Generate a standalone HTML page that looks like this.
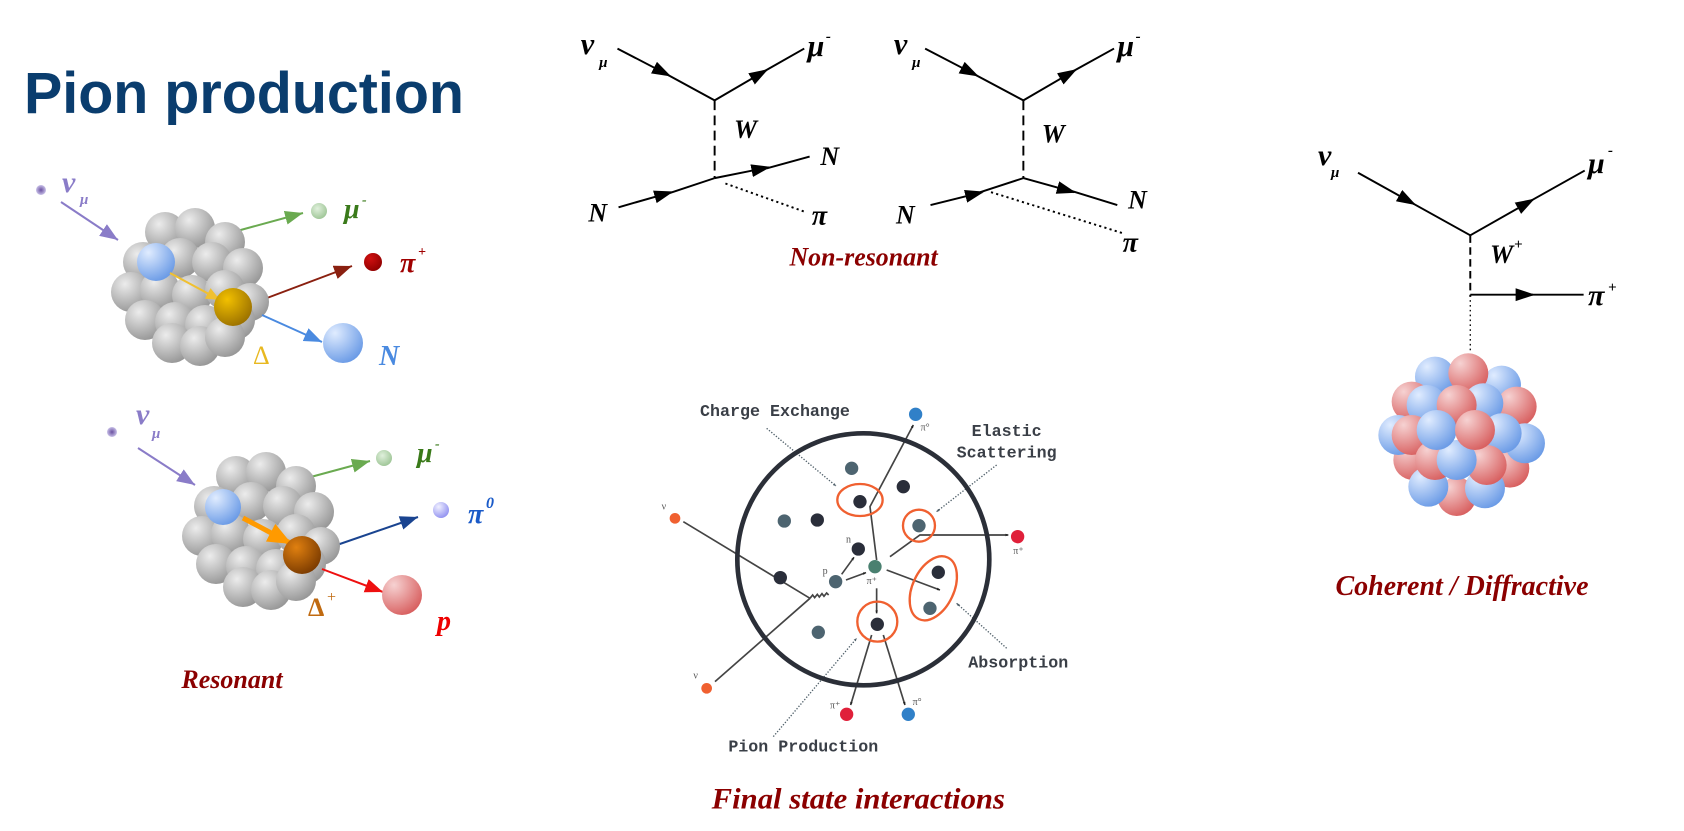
<!DOCTYPE html>
<html><head><meta charset="utf-8"><style>
html,body{margin:0;padding:0;background:#fff;}
svg{display:block;}
.ph{font-family:"Liberation Serif",serif;font-style:italic;font-weight:bold;}
.mono{font-family:"Liberation Mono",monospace;font-weight:bold;fill:#3a3f47;}
</style></head><body>
<svg width="1684" height="831" viewBox="0 0 1684 831" xmlns="http://www.w3.org/2000/svg">
<defs>
<radialGradient id="gray" cx="35%" cy="30%" r="75%"><stop offset="0" stop-color="#ececec"/><stop offset="1" stop-color="#959595"/></radialGradient>
<radialGradient id="blue" cx="30%" cy="25%" r="80%"><stop offset="0" stop-color="#e0ecff"/><stop offset="1" stop-color="#6b9be6"/></radialGradient>
<radialGradient id="red" cx="30%" cy="25%" r="80%"><stop offset="0" stop-color="#f6d2d2"/><stop offset="1" stop-color="#d86060"/></radialGradient>
<radialGradient id="gold" cx="35%" cy="30%" r="75%"><stop offset="0" stop-color="#f2c000"/><stop offset="1" stop-color="#9a7000"/></radialGradient>
<radialGradient id="orng" cx="35%" cy="30%" r="75%"><stop offset="0" stop-color="#e08010"/><stop offset="1" stop-color="#7a3a00"/></radialGradient>
<radialGradient id="grn" cx="40%" cy="35%" r="70%"><stop offset="0" stop-color="#e0f0dc"/><stop offset="1" stop-color="#9cc494"/></radialGradient>
<radialGradient id="pur" cx="50%" cy="50%" r="50%"><stop offset="0" stop-color="#6a50a0"/><stop offset="1" stop-color="#c8c0e8"/></radialGradient>
<radialGradient id="lav" cx="35%" cy="30%" r="75%"><stop offset="0" stop-color="#f0f0ff"/><stop offset="1" stop-color="#9090f0"/></radialGradient>
<radialGradient id="dred" cx="35%" cy="30%" r="75%"><stop offset="0" stop-color="#d01010"/><stop offset="1" stop-color="#900000"/></radialGradient>
<marker id="ak" markerUnits="userSpaceOnUse" markerWidth="20" markerHeight="14" refX="16" refY="6" orient="auto"><path d="M0,0 L18,6 L0,12 Z" fill="#000"/></marker>
<marker id="ak2" markerUnits="userSpaceOnUse" markerWidth="10" markerHeight="8" refX="9" refY="4" orient="auto"><path d="M0,0 L10,4 L0,8 Z" fill="#222"/></marker>
<marker id="as" markerUnits="userSpaceOnUse" markerWidth="10" markerHeight="8" refX="9" refY="4" orient="auto"><path d="M0,0 L10,4 L0,8 Z" fill="#50606a"/></marker>
<marker id="apur" markerUnits="userSpaceOnUse" markerWidth="20" markerHeight="16" refX="18" refY="7" orient="auto"><path d="M0,0 L18,7 L0,14 Z" fill="#8a7cc8"/></marker>
<marker id="agrn" markerUnits="userSpaceOnUse" markerWidth="20" markerHeight="16" refX="18" refY="7" orient="auto"><path d="M0,0 L18,7 L0,14 Z" fill="#6aaa50"/></marker>
<marker id="adr" markerUnits="userSpaceOnUse" markerWidth="20" markerHeight="16" refX="18" refY="7" orient="auto"><path d="M0,0 L18,7 L0,14 Z" fill="#8a2010"/></marker>
<marker id="abl" markerUnits="userSpaceOnUse" markerWidth="20" markerHeight="16" refX="18" refY="7" orient="auto"><path d="M0,0 L18,7 L0,14 Z" fill="#4a8ae0"/></marker>
<marker id="anv" markerUnits="userSpaceOnUse" markerWidth="20" markerHeight="16" refX="18" refY="7" orient="auto"><path d="M0,0 L18,7 L0,14 Z" fill="#1a4490"/></marker>
<marker id="ard" markerUnits="userSpaceOnUse" markerWidth="20" markerHeight="16" refX="18" refY="7" orient="auto"><path d="M0,0 L18,7 L0,14 Z" fill="#ee1010"/></marker>
<marker id="ayl" markerUnits="userSpaceOnUse" markerWidth="16" markerHeight="14" refX="14" refY="6" orient="auto"><path d="M0,0 L14,6 L0,12 Z" fill="#f0c030"/></marker>
<marker id="aor" markerUnits="userSpaceOnUse" markerWidth="26" markerHeight="22" refX="22" refY="10" orient="auto"><path d="M0,0 L24,10 L0,20 Z" fill="#ff9a00"/></marker>
<g id="nuc">
<circle cx="165" cy="232" r="20" fill="url(#gray)"/><circle cx="195" cy="228" r="20" fill="url(#gray)"/><circle cx="225" cy="242" r="20" fill="url(#gray)"/>
<circle cx="143" cy="262" r="20" fill="url(#gray)"/><circle cx="180" cy="258" r="20" fill="url(#gray)"/><circle cx="212" cy="262" r="20" fill="url(#gray)"/><circle cx="243" cy="268" r="20" fill="url(#gray)"/>
<circle cx="131" cy="292" r="20" fill="url(#gray)"/><circle cx="160" cy="290" r="20" fill="url(#gray)"/><circle cx="192" cy="295" r="20" fill="url(#gray)"/><circle cx="225" cy="290" r="20" fill="url(#gray)"/><circle cx="250" cy="302" r="19" fill="url(#gray)"/>
<circle cx="145" cy="320" r="20" fill="url(#gray)"/><circle cx="175" cy="322" r="20" fill="url(#gray)"/><circle cx="205" cy="325" r="20" fill="url(#gray)"/><circle cx="235" cy="320" r="20" fill="url(#gray)"/>
<circle cx="172" cy="343" r="20" fill="url(#gray)"/><circle cx="200" cy="346" r="20" fill="url(#gray)"/><circle cx="225" cy="337" r="20" fill="url(#gray)"/>
</g>
</defs>

<!-- Title -->
<text x="24" y="113" font-family="Liberation Sans,sans-serif" font-weight="bold" font-size="58" fill="#0a3d6e" textLength="440" lengthAdjust="spacingAndGlyphs">Pion production</text>

<!-- Resonant 1 -->
<circle cx="41" cy="190" r="5" fill="url(#pur)"/>
<text class="ph" x="62" y="192" font-size="30" fill="#8a7cc8">ν</text><text class="ph" x="80" y="204" font-size="15" fill="#8a7cc8">μ</text>
<line x1="61" y1="202" x2="118" y2="240" stroke="#8a7cc8" stroke-width="2" marker-end="url(#apur)"/>
<line x1="237" y1="231" x2="303" y2="213" stroke="#6aaa50" stroke-width="2" marker-end="url(#agrn)"/>
<circle cx="319" cy="211" r="8" fill="url(#grn)"/>
<text class="ph" x="344" y="218" font-size="28" fill="#3a7a1a">μ</text><text class="ph" x="362" y="204" font-size="14" fill="#3a7a1a">-</text>
<line x1="267" y1="298" x2="352" y2="266" stroke="#8a2010" stroke-width="2" marker-end="url(#adr)"/>
<circle cx="373" cy="262" r="9" fill="url(#dred)"/>
<text class="ph" x="400" y="272" font-size="28" fill="#a00000">π</text><text class="ph" x="418" y="256" font-size="14" fill="#a00000">+</text>
<use href="#nuc"/>
<circle cx="156" cy="262" r="19" fill="url(#blue)"/>
<line x1="170" y1="273" x2="220" y2="300" stroke="#f0c030" stroke-width="2" marker-end="url(#ayl)"/>
<circle cx="233" cy="307" r="19" fill="url(#gold)"/>
<line x1="262" y1="315" x2="322" y2="342" stroke="#4a8ae0" stroke-width="2" marker-end="url(#abl)"/>
<circle cx="343" cy="343" r="20" fill="url(#blue)"/>
<text class="ph" x="379" y="365" font-size="28" fill="#4a8ae0">N</text>
<text x="253" y="364" font-family="Liberation Serif,serif" font-size="26" fill="#e8b820">Δ</text>

<!-- Resonant 2 -->
<circle cx="112" cy="432" r="5" fill="url(#pur)"/>
<text class="ph" x="136" y="424" font-size="30" fill="#8a7cc8">ν</text><text class="ph" x="152" y="438" font-size="15" fill="#8a7cc8">μ</text>
<line x1="138" y1="448" x2="195" y2="485" stroke="#8a7cc8" stroke-width="2" marker-end="url(#apur)"/>
<line x1="307" y1="478" x2="370" y2="461" stroke="#6aaa50" stroke-width="2" marker-end="url(#agrn)"/>
<circle cx="384" cy="458" r="8" fill="url(#grn)"/>
<text class="ph" x="417" y="462" font-size="28" fill="#3a7a1a">μ</text><text class="ph" x="435" y="448" font-size="14" fill="#3a7a1a">-</text>
<line x1="334" y1="546" x2="418" y2="517" stroke="#1a4490" stroke-width="2" marker-end="url(#anv)"/>
<circle cx="441" cy="510" r="8" fill="url(#lav)"/>
<text class="ph" x="468" y="523" font-size="28" fill="#1a5ac8">π</text><text class="ph" x="486" y="508" font-size="16" fill="#1a5ac8">0</text>
<use href="#nuc" transform="translate(71,244)"/>
<circle cx="223" cy="507" r="18" fill="url(#blue)"/>
<line x1="243" y1="518" x2="290" y2="543" stroke="#ff9a00" stroke-width="5" marker-end="url(#aor)"/>
<circle cx="302" cy="555" r="19" fill="url(#orng)"/>
<line x1="322" y1="569" x2="383" y2="592" stroke="#ee1010" stroke-width="2" marker-end="url(#ard)"/>
<circle cx="402" cy="595" r="20" fill="url(#red)"/>
<text class="ph" x="437" y="630" font-size="28" fill="#ee0000">p</text>
<text x="308" y="616" font-family="Liberation Serif,serif" font-weight="bold" font-size="26" fill="#c06a10">Δ</text><text x="327" y="602" font-family="Liberation Serif,serif" font-size="16" fill="#c06a10">+</text>
<text class="ph" x="232" y="688" font-size="26" fill="#8b0000" text-anchor="middle">Resonant</text>

<!-- Feynman diagrams (displayed coords) -->
<g transform="scale(1.0795)" stroke="#000" stroke-width="1.8" fill="none">
<line x1="572" y1="45" x2="620" y2="70" marker-end="url(#ak)"/><line x1="618" y1="69" x2="662" y2="93"/>
<line x1="662" y1="93" x2="710" y2="65" marker-end="url(#ak)"/><line x1="708" y1="66" x2="745" y2="45"/>
<line x1="662" y1="93" x2="662" y2="165" stroke-dasharray="9,5"/>
<line x1="573" y1="192" x2="622" y2="178" marker-end="url(#ak)"/><line x1="620" y1="179" x2="662" y2="165"/>
<line x1="662" y1="165" x2="712" y2="155" marker-end="url(#ak)"/><line x1="710" y1="156" x2="750" y2="145"/>
<line x1="672" y1="170" x2="745" y2="196" stroke-dasharray="2,3"/>

<line x1="857" y1="45" x2="905" y2="70" marker-end="url(#ak)"/><line x1="903" y1="69" x2="948" y2="93"/>
<line x1="948" y1="93" x2="996" y2="65" marker-end="url(#ak)"/><line x1="994" y1="66" x2="1032" y2="45"/>
<line x1="948" y1="93" x2="948" y2="165" stroke-dasharray="9,5"/>
<line x1="862" y1="190" x2="910" y2="178" marker-end="url(#ak)"/><line x1="908" y1="178" x2="948" y2="165"/>
<line x1="948" y1="165" x2="995" y2="178" marker-end="url(#ak)"/><line x1="993" y1="177" x2="1035" y2="190"/>
<line x1="918" y1="178" x2="1040" y2="216" stroke-dasharray="2,3"/>

<line x1="1258" y1="160" x2="1310" y2="189" marker-end="url(#ak)"/><line x1="1308" y1="188" x2="1362" y2="218"/>
<line x1="1362" y1="218" x2="1420" y2="185" marker-end="url(#ak)"/><line x1="1418" y1="186" x2="1468" y2="158"/>
<line x1="1362" y1="218" x2="1362" y2="275" stroke-dasharray="7,4"/>
<line x1="1362" y1="273" x2="1420" y2="273" marker-end="url(#ak)"/><line x1="1418" y1="273" x2="1467" y2="273"/>
<line x1="1362" y1="278" x2="1362" y2="327" stroke-dasharray="1.5,3" stroke-width="1.2"/>
</g>
<g transform="scale(1.0795)" fill="#000">
<text class="ph" x="538" y="50" font-size="28">ν</text><text class="ph" x="555" y="62" font-size="14">μ</text>
<text class="ph" x="748" y="52" font-size="28">μ</text><text class="ph" x="765" y="38" font-size="14">-</text>
<text class="ph" x="680" y="128" font-size="24" font-weight="normal">W</text>
<text class="ph" x="760" y="153" font-size="24" font-weight="normal">N</text>
<text class="ph" x="545" y="205" font-size="24" font-weight="normal">N</text>
<text class="ph" x="752" y="208" font-size="26">π</text>
<text class="ph" x="828" y="50" font-size="28">ν</text><text class="ph" x="845" y="62" font-size="14">μ</text>
<text class="ph" x="1035" y="52" font-size="28">μ</text><text class="ph" x="1052" y="38" font-size="14">-</text>
<text class="ph" x="965" y="132" font-size="24" font-weight="normal">W</text>
<text class="ph" x="1045" y="193" font-size="24" font-weight="normal">N</text>
<text class="ph" x="830" y="207" font-size="24" font-weight="normal">N</text>
<text class="ph" x="1040" y="233" font-size="26">π</text>
<text class="ph" x="800" y="246" font-size="24" fill="#8b0000" text-anchor="middle">Non-resonant</text>
</g>

<!-- Coherent -->
<g fill="#000">
<text class="ph" x="1318" y="165" font-size="30">ν</text><text class="ph" x="1331" y="177" font-size="15">μ</text>
<text class="ph" x="1588" y="173" font-size="30">μ</text><text class="ph" x="1608" y="155" font-size="15">-</text>
<text class="ph" x="1490" y="263" font-size="26">W</text><text class="ph" x="1514" y="249" font-size="15" font-weight="normal">+</text>
<text class="ph" x="1588" y="305" font-size="30">π</text><text class="ph" x="1608" y="292" font-size="15" font-weight="normal">+</text>
</g>
<g transform="translate(1280,130) scale(0.3333)">
<circle cx="465" cy="740" r="60" fill="url(#blue)"/><circle cx="665" cy="765" r="58" fill="url(#blue)"/><circle cx="565" cy="730" r="60" fill="url(#red)"/>
<circle cx="395" cy="815" r="60" fill="url(#red)"/><circle cx="710" cy="830" r="60" fill="url(#red)"/>
<circle cx="440" cy="825" r="60" fill="url(#blue)"/><circle cx="610" cy="820" r="60" fill="url(#blue)"/><circle cx="530" cy="825" r="60" fill="url(#red)"/>
<circle cx="400" cy="990" r="60" fill="url(#red)"/><circle cx="690" cy="1015" r="58" fill="url(#red)"/>
<circle cx="355" cy="915" r="60" fill="url(#blue)"/><circle cx="735" cy="940" r="60" fill="url(#blue)"/>
<circle cx="395" cy="915" r="60" fill="url(#red)"/><circle cx="665" cy="910" r="60" fill="url(#blue)"/>
<circle cx="530" cy="1100" r="58" fill="url(#red)"/><circle cx="445" cy="1070" r="60" fill="url(#blue)"/><circle cx="615" cy="1075" r="60" fill="url(#blue)"/>
<circle cx="465" cy="990" r="60" fill="url(#red)"/><circle cx="620" cy="1005" r="60" fill="url(#red)"/>
<circle cx="530" cy="990" r="60" fill="url(#blue)"/>
<circle cx="470" cy="900" r="60" fill="url(#blue)"/><circle cx="585" cy="900" r="60" fill="url(#red)"/>
</g>
<text class="ph" x="1462" y="595" font-size="28" fill="#8b0000" text-anchor="middle">Coherent / Diffractive</text>

<!-- FSI -->
<g transform="translate(600,380) scale(0.3333)">
<g stroke="#50606a" stroke-width="4" stroke-dasharray="4,5" fill="none">
<line x1="500" y1="145" x2="708" y2="318" marker-end="url(#as)"/>
<line x1="1190" y1="255" x2="1010" y2="395" marker-end="url(#as)"/>
<line x1="1220" y1="805" x2="1070" y2="670" marker-end="url(#as)"/>
<line x1="520" y1="1070" x2="770" y2="775" marker-end="url(#as)"/>
</g>
<g stroke="#444" stroke-width="5" fill="none">
<line x1="250" y1="425" x2="630" y2="655"/>
<line x1="345" y1="905" x2="630" y2="655"/>
<path d="M630,655 l8,-10 l6,8 l8,-10 l6,8 l8,-10 l6,8 l8,-10 l6,6"/>
<line x1="725" y1="583" x2="762" y2="532" marker-end="url(#ak2)"/>
<line x1="738" y1="600" x2="798" y2="578" marker-end="url(#ak2)"/>
<polyline points="830,540 810,380 940,135" marker-end="url(#ak2)"/>
<polyline points="870,530 960,465 1225,465" marker-end="url(#ak2)"/>
<line x1="860" y1="570" x2="1020" y2="630" marker-end="url(#ak2)"/>
<line x1="830" y1="625" x2="830" y2="700" marker-end="url(#ak2)"/>
<line x1="815" y1="765" x2="752" y2="975" marker-end="url(#ak2)"/>
<line x1="850" y1="765" x2="915" y2="975" marker-end="url(#ak2)"/>
</g>
<circle cx="790" cy="538" r="378" fill="none" stroke="#2b2f38" stroke-width="14"/>
<g fill="#2a2e3a">
<circle cx="910" cy="320" r="20"/><circle cx="780" cy="365" r="20"/><circle cx="652" cy="420" r="20"/>
<circle cx="775" cy="507" r="20"/><circle cx="541" cy="593" r="20"/><circle cx="1015" cy="577" r="20"/><circle cx="832" cy="733" r="20"/>
</g>
<g fill="#4d6470">
<circle cx="755" cy="265" r="20"/><circle cx="553" cy="423" r="20"/><circle cx="957" cy="437" r="20"/>
<circle cx="707" cy="605" r="20"/><circle cx="990" cy="685" r="20"/><circle cx="655" cy="757" r="20"/>
</g>
<circle cx="825" cy="560" r="20" fill="#4a8070"/>
<g fill="none" stroke="#f06030" stroke-width="7">
<ellipse cx="780" cy="360" rx="68" ry="48"/>
<circle cx="957" cy="437" r="48"/>
<ellipse cx="1000" cy="625" rx="62" ry="102" transform="rotate(25 1000 625)"/>
<circle cx="832" cy="725" r="60"/>
</g>
<circle cx="947" cy="103" r="20" fill="#3080c8"/>
<circle cx="1253" cy="470" r="20" fill="#e0203a"/>
<circle cx="740" cy="1003" r="20" fill="#e0203a"/>
<circle cx="925" cy="1003" r="20" fill="#3080c8"/>
<circle cx="225" cy="415" r="16" fill="#f06030"/>
<circle cx="320" cy="925" r="16" fill="#f06030"/>
<g font-family="Liberation Serif,serif" font-size="30" fill="#555">
<text x="962" y="152">π°</text><text x="1240" y="522">π⁺</text><text x="690" y="985">π⁺</text><text x="938" y="975">π°</text>
<text x="800" y="612">π⁺</text><text x="738" y="488">n</text><text x="668" y="582">p</text>
<text x="185" y="388">ν</text><text x="280" y="895">ν</text>
</g>
<text class="mono" x="300" y="108" font-size="50">Charge Exchange</text>
<text class="mono" x="1115" y="168" font-size="50">Elastic</text>
<text class="mono" x="1070" y="232" font-size="50">Scattering</text>
<text class="mono" x="1105" y="863" font-size="50">Absorption</text>
<text class="mono" x="385" y="1115" font-size="50">Pion Production</text>
<text class="ph" x="335" y="1285" font-size="90" fill="#8b0000" textLength="880" lengthAdjust="spacingAndGlyphs">Final state interactions</text>
</g>
</svg>
</body></html>
